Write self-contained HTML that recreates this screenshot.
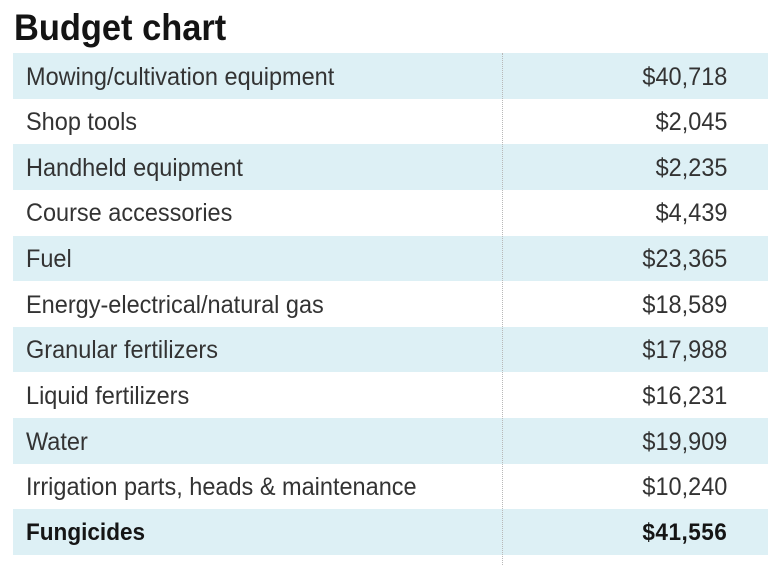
<!DOCTYPE html>
<html>
<head>
<meta charset="utf-8">
<style>
  html, body { margin:0; padding:0; background:#fff; }
  body { width:768px; height:565px; position:relative; overflow:hidden; font-family:"Liberation Sans", Arial, sans-serif; }
  .title { position:absolute; left:14px; top:8.7px; font-size:37px; line-height:37px; font-weight:bold; color:#141414; transform:scaleX(0.93); transform-origin:0 0; white-space:nowrap; }
  .row { position:absolute; left:13px; right:0; height:45.64px; }
  .row.b { background:#ddf0f5; }
  .lab { position:absolute; left:13px; top:1.5px; line-height:45.64px; font-size:25px; color:#333; white-space:nowrap; transform:scaleX(0.94); transform-origin:0 50%; }
  .val { position:absolute; right:41px; top:1.5px; line-height:45.64px; font-size:25px; color:#333; white-space:nowrap; transform:scaleX(0.94); transform-origin:100% 50%; }
  .row.bold .lab, .row.bold .val { font-weight:bold; font-size:24px; top:0.5px; color:#151515; }
  .row.bold .val { letter-spacing:0.5px; right:41px; }
  .vline { position:absolute; left:502px; top:53px; height:512px; border-left:1px dotted #b8b8b8; }
</style>
</head>
<body>
<div class="title">Budget chart</div>

<div class="row b" style="top:53px"><span class="lab">Mowing/cultivation equipment</span><span class="val">$40,718</span></div>
<div class="row" style="top:98.64px"><span class="lab">Shop tools</span><span class="val">$2,045</span></div>
<div class="row b" style="top:144.28px"><span class="lab">Handheld equipment</span><span class="val">$2,235</span></div>
<div class="row" style="top:189.92px"><span class="lab">Course accessories</span><span class="val">$4,439</span></div>
<div class="row b" style="top:235.56px"><span class="lab">Fuel</span><span class="val">$23,365</span></div>
<div class="row" style="top:281.2px"><span class="lab">Energy-electrical/natural gas</span><span class="val">$18,589</span></div>
<div class="row b" style="top:326.84px"><span class="lab">Granular fertilizers</span><span class="val">$17,988</span></div>
<div class="row" style="top:372.48px"><span class="lab">Liquid fertilizers</span><span class="val">$16,231</span></div>
<div class="row b" style="top:418.12px"><span class="lab">Water</span><span class="val">$19,909</span></div>
<div class="row" style="top:463.76px"><span class="lab">Irrigation parts, heads &amp; maintenance</span><span class="val">$10,240</span></div>
<div class="row b bold" style="top:509.4px"><span class="lab">Fungicides</span><span class="val">$41,556</span></div>

<div class="vline"></div>
</body>
</html>
